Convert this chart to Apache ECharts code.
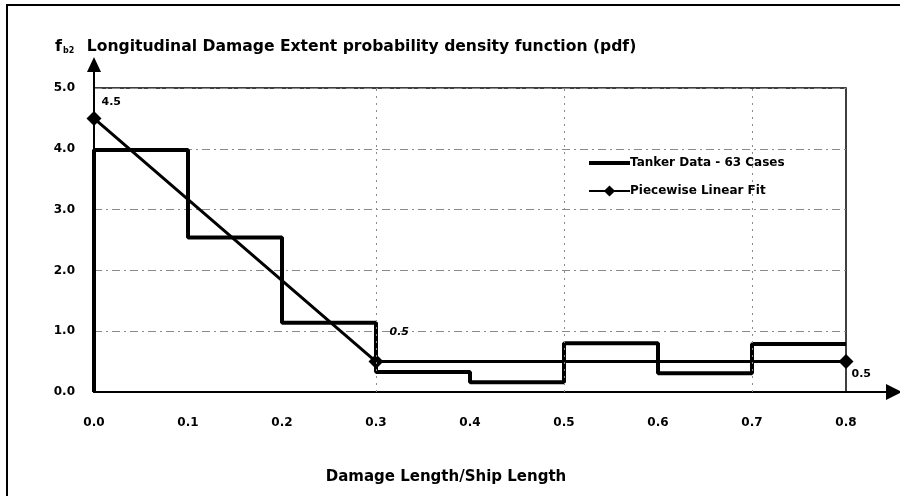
<!DOCTYPE html>
<html>
<head>
<meta charset="utf-8">
<script src="https://cdn.jsdelivr.net/npm/echarts@6/dist/echarts.min.js"></script>
<style>
  html, body { margin: 0; padding: 0; background: #fff; }
  #chart { width: 900px; height: 496px; }
</style>
</head>
<body>
<div id="chart"></div>
<script>
// histogram of tanker damage lengths (step line)
const stepX = [0, 0, 0.1, 0.2, 0.3, 0.4, 0.5, 0.6, 0.7, 0.8]
const stepY = [0, 3.98, 2.54, 1.14, 0.33, 0.16, 0.80, 0.31, 0.79, 0.79]

// piecewise linear fit
const fitX = [0, 0.3, 0.8]
const fitY = [4.5, 0.5, 0.5]
const fitLabels = ['4.5', '0.5', '0.5']

// extra vertical grid lines visible in the plot
const gridX = [0.3, 0.5, 0.7]

const xMin = 0, xMax = 0.8, xStep = 0.1
const yMin = 0, yMax = 5, yStep = 1

const FONT = '"DejaVu Sans", sans-serif'

const labelStyles = [
  { offset: [-5, -16], fontStyle: 'normal' },
  { offset: [1, -29], fontStyle: 'italic' },
  { offset: [-7, 13], fontStyle: 'normal' }
]

const fitData = fitX.map((x, i) => ({
  value: [x, fitY[i]],
  label: {
    show: true,
    formatter: fitLabels[i],
    position: 'right',
    offset: labelStyles[i].offset,
    fontStyle: labelStyles[i].fontStyle,
    fontFamily: FONT,
    fontWeight: 'bold',
    fontSize: 11,
    color: '#000'
  }
}))

const chart = echarts.init(document.getElementById('chart'))

chart.setOption({
  animation: false,
  backgroundColor: '#fff',
  textStyle: { fontFamily: FONT },
  title: {
    text: '{f|f}{sub|b2}  {t|Longitudinal Damage Extent probability density function (pdf)}',
    left: 50,
    top: 33,
    textStyle: {
      rich: {
        f: { fontFamily: FONT, fontWeight: 'bold', fontSize: 16, color: '#000' },
        sub: { fontFamily: FONT, fontWeight: 'bold', fontSize: 8, color: '#000', padding: [8, 0, 0, 1] },
        t: { fontFamily: FONT, fontWeight: 'bold', fontSize: 15.6, color: '#000' }
      }
    }
  },
  legend: {
    orient: 'vertical',
    left: 588,
    top: 157,
    itemWidth: 41,
    itemHeight: 14,
    itemGap: 16,
    backgroundColor: '#fff',
    padding: 0,
    textStyle: { fontFamily: FONT, fontWeight: 'bold', fontSize: 12, color: '#000', padding: [0, 0, 0, -5] },
    data: [
      { name: 'Tanker Data - 63 Cases', icon: 'path://M0,0H40V4H0Z' },
      { name: 'Piecewise Linear Fit' }
    ]
  },
  grid: {
    left: 94,
    right: 54,
    top: 88,
    bottom: 104,
    show: true,
    borderColor: '#000',
    borderWidth: 1.5,
    backgroundColor: 'transparent'
  },
  xAxis: {
    type: 'value',
    min: xMin,
    max: xMax,
    interval: xStep,
    name: 'Damage Length/Ship Length',
    nameLocation: 'middle',
    nameGap: 78,
    nameTextStyle: { fontFamily: FONT, fontWeight: 'bold', fontSize: 15, color: '#000', padding: [0, 48, 0, 0] },
    axisLine: { lineStyle: { color: '#000', width: 2 } },
    axisTick: { show: false },
    splitLine: { show: false },
    axisLabel: {
      margin: 25,
      fontFamily: FONT,
      fontWeight: 'bold',
      fontSize: 12,
      color: '#000',
      formatter: v => v.toFixed(1)
    }
  },
  yAxis: {
    type: 'value',
    min: yMin,
    max: yMax,
    interval: yStep,
    axisLine: { show: true, lineStyle: { color: '#000', width: 2 } },
    axisTick: { show: false },
    splitLine: {
      lineStyle: { color: '#8a8a8a', width: 1, type: [8, 4, 2, 4] }
    },
    axisLabel: {
      margin: 19,
      fontFamily: FONT,
      fontWeight: 'bold',
      fontSize: 12,
      color: '#000',
      formatter: v => v.toFixed(1)
    }
  },
  series: [
    {
      name: 'Tanker Data - 63 Cases',
      type: 'line',
      step: 'end',
      symbol: 'none',
      data: stepX.map((x, i) => [x, stepY[i]]),
      lineStyle: { color: '#000', width: 4 },
      itemStyle: { color: '#000' },
      z: 3
    },
    {
      name: 'Piecewise Linear Fit',
      type: 'line',
      symbol: 'diamond',
      symbolSize: 15,
      data: fitData,
      lineStyle: { color: '#000', width: 3 },
      itemStyle: { color: '#000' },
      z: 4,
      markLine: {
        silent: true,
        symbol: 'none',
        label: { show: false },
        lineStyle: { color: '#8a8a8a', width: 1, type: [2, 5] },
        data: gridX.map(x => ({ xAxis: x }))
      }
    }
  ]
})

// outer frame and axis arrows
const origin = chart.convertToPixel({ gridIndex: 0 }, [xMin, yMin])
const topLeft = chart.convertToPixel({ gridIndex: 0 }, [xMin, yMax])
const bottomRight = chart.convertToPixel({ gridIndex: 0 }, [xMax, yMin])

chart.setOption({
  graphic: [
    {
      type: 'rect',
      shape: { x: 7, y: 5, width: 1200, height: 1200 },
      style: { fill: 'none', stroke: '#000', lineWidth: 2 },
      silent: true
    },
    {
      type: 'line',
      shape: { x1: topLeft[0], y1: topLeft[1], x2: topLeft[0], y2: topLeft[1] - 20 },
      style: { stroke: '#000', lineWidth: 2 },
      silent: true
    },
    {
      type: 'polygon',
      shape: {
        points: [
          [topLeft[0], topLeft[1] - 31],
          [topLeft[0] - 7, topLeft[1] - 16],
          [topLeft[0] + 7, topLeft[1] - 16]
        ]
      },
      style: { fill: '#000' },
      silent: true
    },
    {
      type: 'line',
      shape: { x1: bottomRight[0], y1: origin[1], x2: bottomRight[0] + 42, y2: origin[1] },
      style: { stroke: '#000', lineWidth: 2 },
      silent: true
    },
    {
      type: 'polygon',
      shape: {
        points: [
          [bottomRight[0] + 56, origin[1]],
          [bottomRight[0] + 40, origin[1] - 8],
          [bottomRight[0] + 40, origin[1] + 8]
        ]
      },
      style: { fill: '#000' },
      silent: true
    }
  ]
})
</script>
</body>
</html>
